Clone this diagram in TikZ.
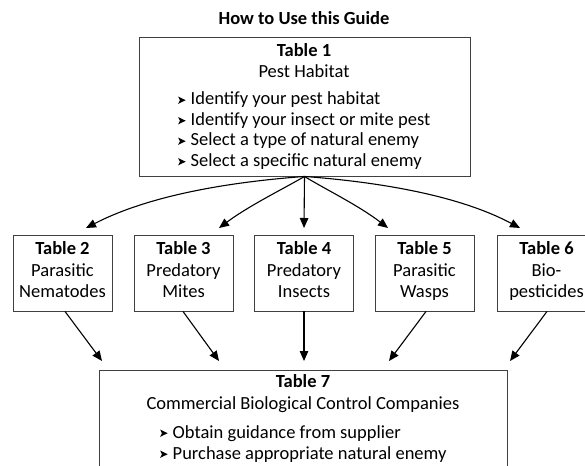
\documentclass[tikz,border=0pt]{standalone}
\usepackage{fontspec}
\setmainfont{Carlito}
\usetikzlibrary{arrows.meta}
\newcommand\arrbul{\tikz[x=1pt,y=1pt,baseline=0pt]\fill[black] (0,1.2)--(7.5,4.8)--(0,8.4)--(1.7,4.8)--cycle;}
\begin{document}
\begin{tikzpicture}[x=1pt,y=-1pt,
  font=\fontsize{18.5}{21}\selectfont,
  box/.style={draw=black!75, line width=0.9pt, minimum width=99pt, minimum height=76pt, inner sep=0pt},
  txt/.style={anchor=base, inner sep=0pt},
  ttl/.style={txt, font=\fontsize{18.5}{21}\selectfont\bfseries},
  bl/.style={anchor=base west, inner sep=0pt},
  arr/.style={-{Triangle[length=10pt,width=8.5pt]}, line width=1.1pt}]
\useasboundingbox (0,0) rectangle (585,465);
\clip (0,0) rectangle (585,465);
\fill[white] (0,0) rectangle (585,465);

\node[ttl] (title) at (304,25) {How to Use this Guide};

% Table 1
\node[box, minimum width=331pt, minimum height=139pt] (t1) at (304.5,106.5) {};
\node[ttl] (t1a) at (304,57) {Table 1};
\node[txt] (t1b) at (304,78) {Pest Habitat};
\node[bl] (t1c) at (178,105) {\arrbul\hspace{5pt}Identify your pest habitat};
\node[bl] (t1d) at (178,125.5) {\arrbul\hspace{5pt}Identify your insect or mite pest};
\node[bl] (t1e) at (178,146) {\arrbul\hspace{5pt}Select a type of natural enemy};
\node[bl] (t1f) at (178,166.5) {\arrbul\hspace{5pt}Select a specific natural enemy};

% Row of tables
\node[box] (b2) at (62.5,273) {};
\node[box] (b3) at (183.5,273) {};
\node[box] (b4) at (304,273) {};
\node[box] (b5) at (424.5,273) {};
\node[box] (b6) at (546.5,273) {};

\node[ttl] (b2a) at (62.5,254) {Table 2};
\node[txt] (b2b) at (62.5,276) {Parasitic};
\node[txt] (b2c) at (62.5,297) {Nematodes};
\node[ttl] (b3a) at (183.5,254) {Table 3};
\node[txt] (b3b) at (183.5,276) {Predatory};
\node[txt] (b3c) at (183.5,297) {Mites};
\node[ttl] (b4a) at (304,254) {Table 4};
\node[txt] (b4b) at (304,276) {Predatory};
\node[txt] (b4c) at (304,297) {Insects};
\node[ttl] (b5a) at (424.5,254) {Table 5};
\node[txt] (b5b) at (424.5,276) {Parasitic};
\node[txt] (b5c) at (424.5,297) {Wasps};
\node[ttl] (b6a) at (546.5,254) {Table 6};
\node[txt] (b6b) at (546.5,276) {Bio-};
\node[txt] (b6c) at (546.5,297) {pesticides};

% Table 7
\node[box, minimum width=408pt, minimum height=130pt] (t7) at (303,435) {};
\node[ttl] (t7a) at (303,387) {Table 7};
\node[txt] (t7b) at (303,409) {Commercial Biological Control Companies};
\node[bl] (t7c) at (160,438) {\arrbul\hspace{5pt}Obtain guidance from supplier};
\node[bl] (t7d) at (160,459) {\arrbul\hspace{5pt}Purchase appropriate natural enemy};

% arrow ends
\coordinate (e2) at (86,228);
\coordinate (e3) at (219,228);
\coordinate (e4) at (304,228);
\coordinate (e5) at (388,228);
\coordinate (e6) at (520,228);
\coordinate (s2) at (102,361);
\coordinate (s3) at (219,361);
\coordinate (s4) at (304,361);
\coordinate (s5) at (389,361);
\coordinate (s6) at (510,361);

\draw[arr] (t1.south) .. controls (230,182) and (150,195) .. (e2);
\draw[arr] (t1.south) .. controls (285,188) and (250,205) .. (e3);
\draw[arr] (t1.south) -- (e4);
\draw[arr] (t1.south) .. controls (323,188) and (358,205) .. (e5);
\draw[arr] (t1.south) .. controls (378,182) and (458,195) .. (e6);

\draw[arr] ([xshift=2.5pt]b2.south) -- (s2);
\draw[arr] ([xshift=-0.5pt]b3.south) -- (s3);
\draw[arr] (b4.south) -- (s4);
\draw[arr] ([xshift=1.5pt]b5.south) -- (s5);
\draw[arr] ([xshift=0.5pt]b6.south) -- (s6);
\end{tikzpicture}
\end{document}
